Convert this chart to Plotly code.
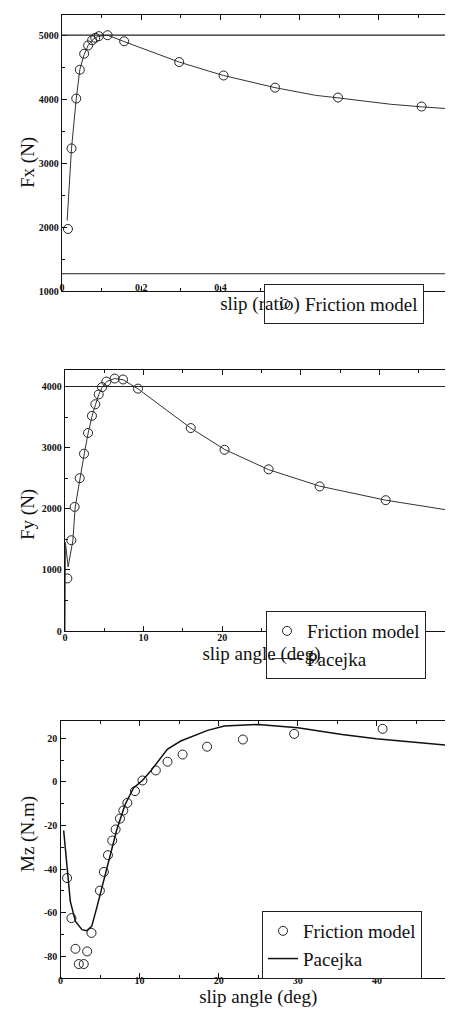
import plotly.graph_objects as go

# ---------------- data ----------------
# Panel 1: longitudinal force vs slip
fx_slip_friction = [0.015, 0.024, 0.036, 0.045, 0.056, 0.066, 0.076, 0.084, 0.093,
                    0.115, 0.157, 0.296, 0.408, 0.538, 0.697, 0.908, 0.998]
fx_friction = [1970, 3230, 4010, 4460, 4710, 4840, 4920, 4960, 4985,
               5000, 4905, 4580, 4370, 4180, 4025, 3885, 3840]
fx_slip_pacejka = [0.013, 0.024, 0.036, 0.045, 0.056, 0.066, 0.076, 0.084, 0.093,
                   0.115, 0.157, 0.296, 0.37, 0.408, 0.538, 0.64, 0.697, 0.83, 0.908, 1.0]
fx_pacejka = [2100, 3230, 4010, 4460, 4700, 4840, 4920, 4960, 4985,
              5000, 4900, 4580, 4440, 4370, 4180, 4060, 4020, 3920, 3880, 3840]

# Panel 2: lateral force vs slip angle
fy_angle_friction = [0.3, 0.8, 1.23, 1.87, 2.42, 2.93, 3.43, 3.86, 4.29, 4.71, 5.26,
                     6.32, 7.38, 9.29, 16.0, 20.3, 25.9, 32.4, 40.8, 49.4]
fy_friction = [860, 1485, 2030, 2500, 2900, 3240, 3520, 3710, 3870, 3990, 4080,
               4130, 4115, 3965, 3320, 2965, 2645, 2365, 2140, 1965]
fy_angle_pacejka = [0.0, 0.05, 0.4, 1.0, 1.3, 1.9, 2.45, 2.95, 3.45, 3.9, 4.3, 4.75,
                    5.3, 6.3, 7.4, 9.3, 16.0, 20.3, 25.9, 32.4, 40.8, 49.4]
fy_pacejka = [0, 1450, 1050, 1480, 2030, 2500, 2900, 3240, 3520, 3710, 3870, 3990,
              4080, 4130, 4110, 3960, 3320, 2970, 2640, 2370, 2140, 1965]

# Panel 3: aligning moment vs slip angle
mz_angle_friction = [0.83, 1.38, 1.89, 2.31, 2.94, 3.37, 3.92, 4.98, 5.48, 6.0, 6.54,
                     6.97, 7.52, 7.94, 8.45, 9.42, 10.36, 12.05, 13.53, 15.44, 18.53,
                     23.06, 29.54, 40.72, 49.6]
mz_friction = [-44.1, -62.5, -76.6, -83.6, -83.6, -77.8, -69.3, -49.9, -41.3, -33.6,
               -26.9, -21.8, -16.8, -13.1, -9.6, -4.2, 0.7, 5.3, 9.3, 12.6, 16.2,
               19.5, 22.1, 24.4, 25.7]
mz_angle_pacejka = [0.4, 0.73, 1.24, 1.89, 2.72, 3.3, 3.94, 4.57, 5.42, 6.27, 7.12,
                    8.17, 9.23, 10.3, 11.4, 13.5, 15.2, 18.6, 20.7, 25.0, 30.0, 35.6,
                    39.9, 50.0]
mz_pacejka = [-22.3, -36.4, -54.8, -64.0, -67.8, -68.3, -66.3, -57.9, -45.6, -33.3,
              -21.8, -10.3, -2.7, 0.5, 5.0, 15.0, 18.8, 23.7, 25.7, 26.4, 24.9, 21.8,
              19.8, 16.5]

# tick labels
fx_yticks = [1000, 2000, 3000, 4000, 5000]
fx_yticklabels = ["1000", "2000", "3000", "4000", "5000"]
fx_xticks = [0, 0.2, 0.4, 0.6, 0.8, 1.0]
fx_xticklabels = ["0", "0,2", "0,4", "0,6", "0,8", "1"]
fy_yticks = [0, 1000, 2000, 3000, 4000]
fy_yticklabels = ["0", "1000", "2000", "3000", "4000"]
ang_xticks = [0, 10, 20, 30, 40, 50]
ang_xticklabels = ["0", "10", "20", "30", "40", "50"]
mz_yticks = [-80, -60, -40, -20, 0, 20]
mz_yticklabels = ["-80", "-60", "-40", "-20", "0", "20"]

# axis titles
y_titles = ["Fx (N)", "Fy (N)", "Mz (N.m)"]

# faint duplicated frame lines visible in the scan
fx_frame_lines = [1270, 5000]
fy_frame_lines = [4000]

# ---------------- figure ----------------
SERIF = "Liberation Serif, Times New Roman, serif"
marker_style = dict(symbol="circle-open", size=9, color="#222", line=dict(width=1, color="#222"))

fig = go.Figure()

fig.add_trace(go.Scatter(x=fx_slip_pacejka, y=fx_pacejka, mode="lines", name="Pacejka",
                         line=dict(color="#333", width=1), xaxis="x", yaxis="y",
                         showlegend=False, legend="legend"))
fig.add_trace(go.Scatter(x=fx_slip_friction, y=fx_friction, mode="markers", name="Friction model",
                         marker=marker_style, xaxis="x", yaxis="y", legend="legend"))

fig.add_trace(go.Scatter(x=fy_angle_friction, y=fy_friction, mode="markers", name="Friction model",
                         marker=marker_style, xaxis="x2", yaxis="y2", legend="legend2"))
fig.add_trace(go.Scatter(x=fy_angle_pacejka, y=fy_pacejka, mode="lines", name="Pacejka",
                         line=dict(color="#333", width=1), xaxis="x2", yaxis="y2",
                         legend="legend2"))

fig.add_trace(go.Scatter(x=mz_angle_friction, y=mz_friction, mode="markers", name="Friction model",
                         marker=marker_style, xaxis="x3", yaxis="y3", legend="legend3"))
fig.add_trace(go.Scatter(x=mz_angle_pacejka, y=mz_pacejka, mode="lines", name="Pacejka",
                         line=dict(color="#111", width=1.5), xaxis="x3", yaxis="y3",
                         legend="legend3"))

W, H = 453, 1013
def dx(a, b):
    return [a / W, b / W]
def dy(top, bottom):
    return [1 - bottom / H, 1 - top / H]

tickfont = dict(family=SERIF, size=10, color="#111", weight="bold")
titlefont = dict(family=SERIF, size=19, color="#111")

def axis(**kw):
    base = dict(showline=True, linecolor="#111", linewidth=1.3, mirror="ticks",
                ticks="inside", ticklen=5, tickcolor="#111", showgrid=False,
                zeroline=False, tickfont=tickfont, automargin=False,
                ticklabeloverflow="allow")
    base.update(kw)
    return base

for v in fx_frame_lines:
    fig.add_shape(type="line", xref="x domain", yref="y", x0=0, x1=1, y0=v, y1=v,
                  line=dict(color="#222", width=1.2))
for v in fy_frame_lines:
    fig.add_shape(type="line", xref="x2 domain", yref="y2", x0=0, x1=1, y0=v, y1=v,
                  line=dict(color="#222", width=1.2))

# rotated y-axis titles placed beside each panel
for text, ypix in zip(y_titles, [155, 507, 826]):
    fig.add_annotation(text=text, xref="paper", yref="paper", x=20 / W, y=1 - ypix / H,
                       xanchor="center", yanchor="middle", textangle=-90,
                       showarrow=False, font=titlefont)

legend_style = dict(bgcolor="white", bordercolor="#222", borderwidth=1,
                    font=dict(family=SERIF, size=19, color="#111"),
                    xanchor="left", yanchor="top", tracegroupgap=0, itemwidth=30)

fig.update_layout(
    width=W, height=H, margin=dict(l=0, r=0, t=0, b=0),
    paper_bgcolor="white", plot_bgcolor="white",
    xaxis=axis(domain=dx(54, 450), range=[0, 1], anchor="y",
               tickvals=fx_xticks, ticktext=fx_xticklabels, ticklabelstandoff=-13,
               minor=dict(dtick=0.1, ticks="inside", ticklen=3, tickcolor="#111"),
               title=dict(text="slip (ratio)", font=titlefont, standoff=2)),
    yaxis=axis(domain=dy(7, 283), range=[1000, 5316], anchor="x",
               tickvals=fx_yticks, ticktext=fx_yticklabels,
               minor=dict(dtick=500, ticks="inside", ticklen=3, tickcolor="#111")),
    xaxis2=axis(domain=dx(57, 450), range=[0, 50], anchor="y2",
                tickvals=ang_xticks, ticktext=ang_xticklabels, ticklabelstandoff=-3,
                minor=dict(dtick=5, ticks="inside", ticklen=3, tickcolor="#111"),
                title=dict(text="slip angle (deg)", font=titlefont, standoff=0)),
    yaxis2=axis(domain=dy(362, 623), range=[0, 4270], anchor="x2",
                tickvals=fy_yticks, ticktext=fy_yticklabels,
                minor=dict(dtick=500, ticks="inside", ticklen=3, tickcolor="#111")),
    xaxis3=axis(domain=dx(52.5, 448), range=[0, 50], anchor="y3",
                tickvals=ang_xticks, ticktext=ang_xticklabels, ticklabelstandoff=-7,
                minor=dict(dtick=5, ticks="inside", ticklen=3, tickcolor="#111"),
                title=dict(text="slip angle (deg)", font=titlefont, standoff=2)),
    yaxis3=axis(domain=dy(713, 970), range=[-90, 28], anchor="x3",
                tickvals=mz_yticks, ticktext=mz_yticklabels,
                minor=dict(dtick=10, ticks="inside", ticklen=3, tickcolor="#111")),
    legend=dict(legend_style, x=256 / W, y=1 - 276 / H),
    legend2=dict(legend_style, x=258 / W, y=1 - 603 / H),
    legend3=dict(legend_style, x=254 / W, y=1 - 903 / H),
    showlegend=True,
)

fig.write_html("out.html")
